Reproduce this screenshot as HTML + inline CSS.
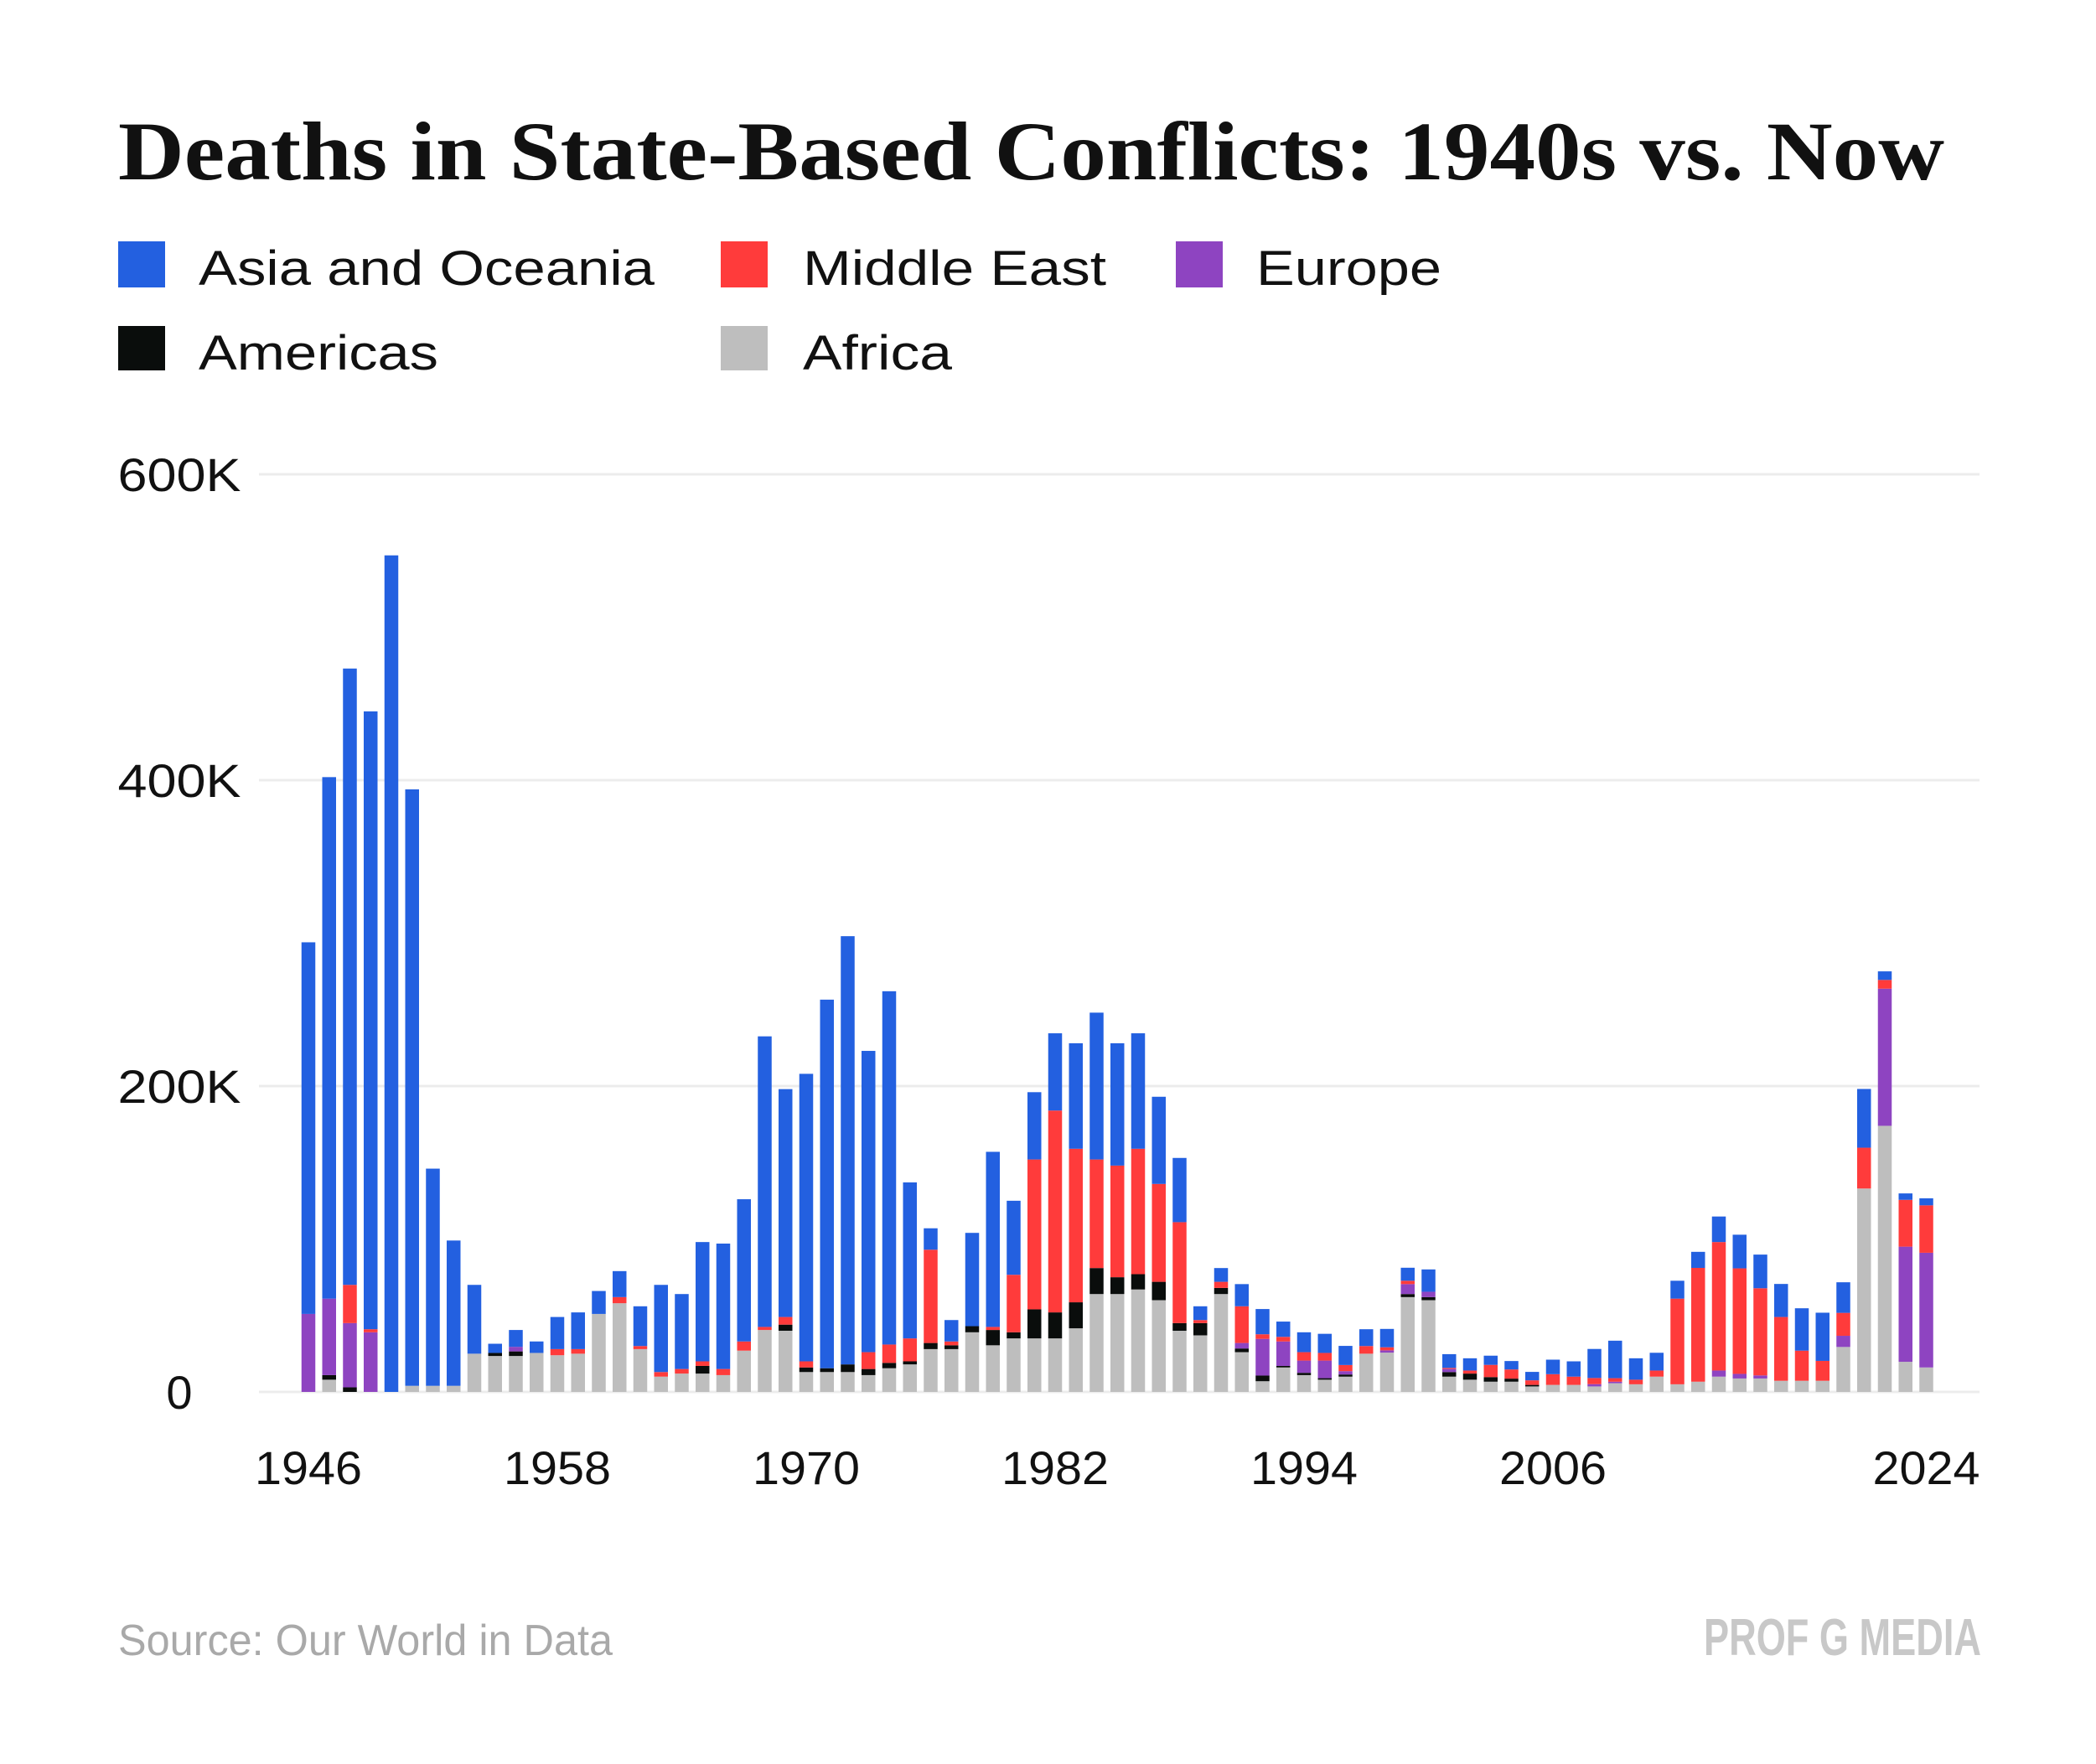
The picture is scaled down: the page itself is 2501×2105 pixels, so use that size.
<!DOCTYPE html>
<html><head><meta charset="utf-8">
<style>
html,body{margin:0;padding:0;background:#fff;}
svg{display:block;}
text{font-family:"Liberation Sans",sans-serif;}
</style></head>
<body>
<svg id="chart" width="2501" height="2105" viewBox="0 0 2501 2105" xmlns="http://www.w3.org/2000/svg">
<rect width="2501" height="2105" fill="#fff"/>
<text x="141" y="214" font-weight="bold" font-size="100" fill="#111" textLength="2179" lengthAdjust="spacingAndGlyphs" style="font-family:'Liberation Serif',serif">Deaths in State-Based Conflicts: 1940s vs. Now</text>
<g>
<g><rect x="141" y="288" width="56" height="55" fill="#2360e0"/><text x="237" y="340" font-size="58" fill="#111" textLength="544" lengthAdjust="spacingAndGlyphs">Asia and Oceania</text></g>
<g><rect x="860" y="288" width="56" height="55" fill="#ff3b3b"/><text x="958" y="340" font-size="58" fill="#111" textLength="362" lengthAdjust="spacingAndGlyphs">Middle East</text></g>
<g><rect x="1403" y="288" width="56" height="55" fill="#8e44c1"/><text x="1499" y="340" font-size="58" fill="#111" textLength="221" lengthAdjust="spacingAndGlyphs">Europe</text></g>
<g><rect x="141" y="389" width="56" height="53" fill="#0a0d0c"/><text x="237" y="441" font-size="58" fill="#111" textLength="286" lengthAdjust="spacingAndGlyphs">Americas</text></g>
<g><rect x="860" y="389" width="56" height="53" fill="#bebebe"/><text x="958" y="441" font-size="58" fill="#111" textLength="178" lengthAdjust="spacingAndGlyphs">Africa</text></g>
</g>
<g id="grid"></g>
<g id="yaxis"></g>
<g id="bars"></g>
<g id="xaxis"></g>
<text x="141" y="1975" font-size="52" fill="#a9a9a9" textLength="590" lengthAdjust="spacingAndGlyphs">Source: Our World in Data</text>
<text x="2364" y="1975" text-anchor="end" font-size="62" font-weight="bold" fill="#c8c8c8" textLength="331" lengthAdjust="spacingAndGlyphs">PROF G MEDIA</text>
</svg>
<script>
const years = [];
for (let y = 1946; y <= 2024; y++) years.push(y);
const africa   = [0,8,0,0,0,4,4,4,25,23.5,23.5,25.5,24,25,51,58,28,10,12,12,11,27,40.5,40,13,13,13,11,15.5,18,28,28,39,30.5,35,35,35,41.6,64,64,67,60,40,37,64,26,7,16,11,8,10,25,25.7,62,60,10,8,6.7,6.7,3.6,4.6,4.6,3.6,5.7,5,10,5,6.7,10,8.8,8.8,7.3,7.3,7.3,29.4,133,174,19.7,16];
const americas = [0,3,3,0,0,0,0,0,0,2,3,0,0,0,0,0,0,0,0,5,0,0,0,4,3,2.5,5,4,3.5,2,4,2.5,4,10,4,19,17,17,17,11,10,12,5,8,4,2.4,3.7,1,1.5,1,1.4,0,0,2,2,3,4,3,2,1,0,0,0,0,0,0,0,0,0,0,0,0,0,0,0,0,0,0,0];
const europe   = [51,50,42,39,0,0,0,0,0,0,3,0,0,0,0,0,0,0,0,0,0,0,0,0,0,0,0,0,0,0,0,0,0,0,0,0,0,0,0,0,0,0,0,0,0,3.6,24,16,8,11.5,2.2,0,1.5,6.5,3.5,2,0,0,0,0,0,0,1.5,1,0,0,0,0,4,3,2,0,0,0,7.3,0,89.7,75.3,75];
const mideast  = [0,0,25,2,0,0,0,0,0,0,0,0,4,3,0,4,2,3,3,3,4,6,2,5,4,0,0,11,12,15,61,2.5,0,2,37.6,98,132,100.4,71,73,82,64,66,2,4,24,3,3,5.5,5,4,5,2,2.2,0,0.7,2,8,6,3,7,5.4,4,2.3,3,4,56,74.4,84,69,57,41.7,19.7,13,15,26.7,5.7,30.6,31];
const asia     = [243,341,403,404,547,390,142,95,45,6,11,7.5,21,24,15,17,26,57,49,78,82,93,190,149,188,241,280,197,231,102,14,14,61,114.5,48.4,44,50.5,69,96,80,75.5,57,42,9,9,14.5,16.5,10,13,12.5,12.5,11,12,8.5,14.6,9,8,6,5.5,5.5,9.5,10,19,24.5,14,11.6,11.7,10.5,16.7,22,22,21.6,27.7,31.5,20,38.4,5.6,4.2,4.6];
const series = [africa, americas, europe, mideast, asia];
const seriesNames = ['africa','americas','europe','middle-east','asia'];
const colors = ['#bebebe','#0a0d0c','#8e44c1','#ff3b3b','#2360e0'];
const yTicks = [0, 200, 400, 600];
const yTickLabels = ['0','200K','400K','600K'];
const xTickYears = [1946,1958,1970,1982,1994,2006,2024];

const NS = 'http://www.w3.org/2000/svg';
const Y0 = 1661, PX_PER_K = 365/200;
function yScale(v){ return Y0 - v*PX_PER_K; }
function xScale(year){ return 368 + (year-1946)*24.75; }
const BW = 16.5;

const grid = document.getElementById('grid');
const yaxis = document.getElementById('yaxis');
yTicks.forEach((t,i)=>{
  const l = document.createElementNS(NS,'line');
  l.setAttribute('x1',309); l.setAttribute('x2',2362);
  l.setAttribute('y1',yScale(t)); l.setAttribute('y2',yScale(t));
  l.setAttribute('stroke','#ececec'); l.setAttribute('stroke-width','3');
  
  
  grid.appendChild(l);
  const tx = document.createElementNS(NS,'text');
  tx.setAttribute('x',214); tx.setAttribute('y',yScale(t)+20);
  tx.setAttribute('text-anchor','middle'); tx.setAttribute('font-size','56'); tx.setAttribute('fill','#111');
  if (yTickLabels[i].length > 1) { tx.setAttribute('textLength','147'); tx.setAttribute('lengthAdjust','spacingAndGlyphs'); }
  tx.textContent = yTickLabels[i];
  
  
  yaxis.appendChild(tx);
});

const bars = document.getElementById('bars');
years.forEach((yr,i)=>{
  let base = 0;
  series.forEach((s,k)=>{
    const v = s[i];
    if (v > 0) {
      const r = document.createElementNS(NS,'rect');
      r.setAttribute('x', xScale(yr)-BW/2);
      r.setAttribute('y', yScale(base+v));
      r.setAttribute('width', BW);
      r.setAttribute('height', v*PX_PER_K);
      r.setAttribute('fill', colors[k]);
      
      
      bars.appendChild(r);
    }
    base += v;
  });
});

const xaxis = document.getElementById('xaxis');
xTickYears.forEach(yr=>{
  const tx = document.createElementNS(NS,'text');
  tx.setAttribute('x', xScale(yr)); tx.setAttribute('y', 1771);
  tx.setAttribute('text-anchor','middle'); tx.setAttribute('font-size','56'); tx.setAttribute('fill','#111');
  tx.setAttribute('textLength','128'); tx.setAttribute('lengthAdjust','spacingAndGlyphs');
  tx.textContent = yr;
  
  
  xaxis.appendChild(tx);
});
</script>
</body></html>
